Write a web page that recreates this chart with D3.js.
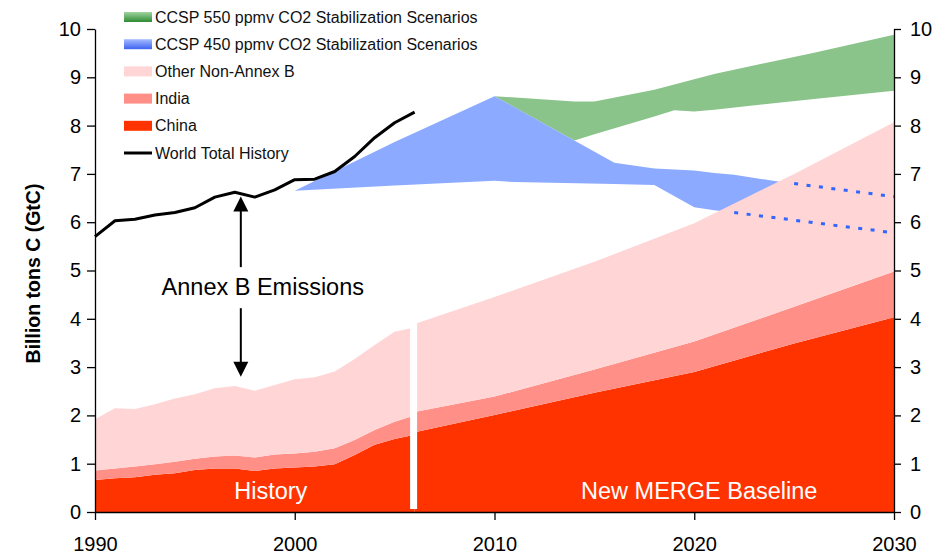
<!DOCTYPE html>
<html>
<head>
<meta charset="utf-8">
<script src="https://d3js.org/d3.v7.min.js"></script>
<style>
    body { margin: 0; background: #fff; }
    svg text { font-family: "Liberation Sans", Arial, Helvetica, sans-serif; }
    .axis text { font-size: 20px; fill: #000; }
    .axis path, .axis line { stroke: #000; stroke-width: 1.3; }
</style>
</head>
<body>
<svg width="946" height="555"></svg>
<script>
// history (stacked pieces, GtC)
var histYears = [1990, 1991, 1992, 1993, 1994, 1995, 1996, 1997, 1998, 1999, 2000, 2001, 2002, 2003, 2004, 2005, 2006];
var histChina = [0.66, 0.70, 0.72, 0.77, 0.80, 0.87, 0.90, 0.90, 0.85, 0.90, 0.92, 0.94, 0.99, 1.18, 1.39, 1.51, 1.60];
var histIndia = [0.20, 0.20, 0.22, 0.22, 0.24, 0.23, 0.25, 0.27, 0.28, 0.29, 0.29, 0.31, 0.33, 0.31, 0.31, 0.36, 0.40];
var histOther = [1.06, 1.25, 1.19, 1.24, 1.31, 1.34, 1.41, 1.44, 1.38, 1.44, 1.54, 1.54, 1.59, 1.68, 1.76, 1.86, 1.82];
var worldTotal = [5.70, 6.03, 6.06, 6.15, 6.20, 6.30, 6.52, 6.62, 6.52, 6.67, 6.88, 6.89, 7.05, 7.36, 7.75, 8.06, 8.28];

// New MERGE baseline
var projYears = [2006, 2010, 2015, 2020, 2025, 2030];
var projChina = [1.65, 2.01, 2.47, 2.90, 3.49, 4.03];
var projIndia = [0.42, 0.38, 0.48, 0.63, 0.76, 0.95];
var projOther = [1.82, 2.06, 2.23, 2.45, 2.75, 3.09];

// CCSP stabilization bands
var ccsp450Years = [2000, 2005, 2010, 2011, 2016, 2018, 2020, 2021, 2022, 2025];
var ccsp450Upper = [6.65, 7.66, 8.61, 8.38, 7.23, 7.11, 7.07, 7.02, 6.98, 6.79];
var ccsp450Lower = [6.65, 6.76, 6.86, 6.83, 6.79, 6.77, 6.31, 6.25, 6.20, 6.04];
var ccsp550Years = [2010, 2014, 2015, 2018, 2019, 2020, 2021, 2026, 2030];
var ccsp550Upper = [8.61, 8.50, 8.50, 8.74, 8.85, 8.96, 9.07, 9.51, 9.88];
var ccsp550Lower = [8.61, 7.69, 7.82, 8.19, 8.32, 8.29, 8.33, 8.55, 8.72];
var dashUpperYears = [2025, 2030];
var dashUpper = [6.80, 6.53];
var dashLowerYears = [2022, 2030];
var dashLower = [6.20, 5.78];

var yTicks = [0, 1, 2, 3, 4, 5, 6, 7, 8, 9, 10];
var xTicks = [1990, 2000, 2010, 2020, 2030];
var legendLabels = ["CCSP 550 ppmv CO2 Stabilization Scenarios", "CCSP 450 ppmv CO2 Stabilization Scenarios",
    "Other Non-Annex B", "India", "China", "World Total History"];

var colors = { china: "#ff3300", india: "#ff8f87", other: "#ffd5d5", c450: "#8caaff", c550: "#8bc48a" };

var svg = d3.select("svg");
var x = d3.scaleLinear().domain([1990, 2030]).range([95, 894]);
var y = d3.scaleLinear().domain([0, 10]).range([512, 29]);

var defs = svg.append("defs");
function grad(id, top, bottom) {
    var g = defs.append("linearGradient").attr("id", id).attr("x1", 0).attr("y1", 0).attr("x2", 0).attr("y2", 1);
    g.append("stop").attr("offset", "0%").attr("stop-color", top);
    g.append("stop").attr("offset", "100%").attr("stop-color", bottom);
}
grad("g550", "#9fd49e", "#2f8a33");
grad("g450", "#a6bcff", "#3d63f2");

function band(years, lo, hi) {
    return d3.area()
        .x(function (d, i) { return x(years[i]); })
        .y0(function (d, i) { return y(lo[i]); })
        .y1(function (d, i) { return y(hi[i]); })(years);
}

svg.append("path").attr("d", band(ccsp550Years, ccsp550Lower, ccsp550Upper)).attr("fill", colors.c550);
svg.append("path").attr("d", band(ccsp450Years, ccsp450Lower, ccsp450Upper)).attr("fill", colors.c450);

// stacked regions
var keys = ["china", "india", "other"];
function drawStack(years, china, india, other) {
    var rows = years.map(function (yr, i) { return { year: yr, china: china[i], india: india[i], other: other[i] }; });
    var series = d3.stack().keys(keys)(rows);
    var area = d3.area()
        .x(function (d) { return x(d.data.year); })
        .y0(function (d) { return y(d[0]); })
        .y1(function (d) { return y(d[1]); });
    svg.append("g").selectAll("path")
        .data(series)
        .enter()
        .append("path")
        .attr("d", area)
        .attr("fill", function (d) { return colors[d.key]; });
}
drawStack(histYears, histChina, histIndia, histOther);
drawStack(projYears, projChina, projIndia, projOther);

// white separator between history and projection
svg.append("line")
    .attr("x1", x(2005.95)).attr("x2", x(2005.95))
    .attr("y1", y(0.06)).attr("y2", y(4.2))
    .attr("stroke", "#fff").attr("stroke-width", 7);

// dashed continuations of the 450 band
function dashLine(years, vals) {
    svg.append("path")
        .attr("d", d3.line().x(function (d, i) { return x(years[i]); }).y(function (d) { return y(d); })(vals))
        .attr("fill", "none").attr("stroke", "#3366ff").attr("stroke-width", 3)
        .attr("stroke-dasharray", "4,8.5");
}
dashLine(dashUpperYears, dashUpper);
dashLine(dashLowerYears, dashLower);

// world total
svg.append("path")
    .attr("d", d3.line().x(function (d, i) { return x(histYears[i]); }).y(function (d) { return y(d); })(worldTotal))
    .attr("fill", "none").attr("stroke", "#000").attr("stroke-width", 3).attr("stroke-linejoin", "round");

// Annex B annotation
var ax = x(1997.3);
function arrow(from, tip) {
    var fp = y(from), tp = y(tip);
    var dir = tp < fp ? -1 : 1;
    svg.append("line").attr("x1", ax).attr("x2", ax)
        .attr("y1", fp).attr("y2", tp - dir * 12)
        .attr("stroke", "#000").attr("stroke-width", 2);
    svg.append("path")
        .attr("d", "M" + ax + "," + tp + "L" + (ax - 7.5) + "," + (tp - dir * 15) + "L" + (ax + 7.5) + "," + (tp - dir * 15) + "Z")
        .attr("fill", "#000");
}
arrow(5.07, 6.53);
arrow(4.22, 2.80);
svg.append("text")
    .attr("x", x(1998.4)).attr("y", y(4.5))
    .attr("text-anchor", "middle").attr("font-size", "23.5px")
    .text("Annex B Emissions");

svg.append("text").attr("x", x(1998.8)).attr("y", y(0.27))
    .attr("text-anchor", "middle").attr("font-size", "23.5px").attr("fill", "#fff").text("History");
svg.append("text").attr("x", x(2020.25)).attr("y", y(0.27))
    .attr("text-anchor", "middle").attr("font-size", "23.5px").attr("fill", "#fff").text("New MERGE Baseline");

// axes
svg.append("g").attr("class", "axis").attr("transform", "translate(95,0)")
    .call(d3.axisLeft(y).tickValues(yTicks).tickSize(8).tickSizeOuter(0).tickPadding(6));
svg.append("g").attr("class", "axis").attr("transform", "translate(894,0)")
    .call(d3.axisRight(y).tickValues(yTicks).tickSize(7).tickSizeOuter(0).tickPadding(9));
svg.append("g").attr("class", "axis").attr("transform", "translate(0,512)")
    .call(d3.axisBottom(x).tickValues(xTicks).tickFormat(d3.format("d")).tickSize(8).tickSizeOuter(0).tickPadding(17));

svg.append("text")
    .attr("transform", "translate(40," + (y(5) + 3) + ") rotate(-90)")
    .attr("text-anchor", "middle").attr("font-size", "19.5px").attr("font-weight", "bold")
    .text("Billion tons C (GtC)");

// legend
var swatchFill = ["url(#g550)", "url(#g450)", colors.other, colors.india, colors.china, null];
var legend = svg.append("g").attr("transform", "translate(124,17)");
legendLabels.forEach(function (lab, i) {
    var row = legend.append("g").attr("transform", "translate(0," + (i * 27.2) + ")");
    if (swatchFill[i]) {
        row.append("rect").attr("x", 0).attr("y", -5).attr("width", 28).attr("height", 10).attr("fill", swatchFill[i]);
    } else {
        row.append("line").attr("x1", 0).attr("x2", 28).attr("y1", 0).attr("y2", 0)
            .attr("stroke", "#000").attr("stroke-width", 3);
    }
    row.append("text").attr("x", 31).attr("y", 0).attr("dy", "0.35em")
        .attr("font-size", "16px").attr("fill", "#111").text(lab);
});
</script>
</body>
</html>
